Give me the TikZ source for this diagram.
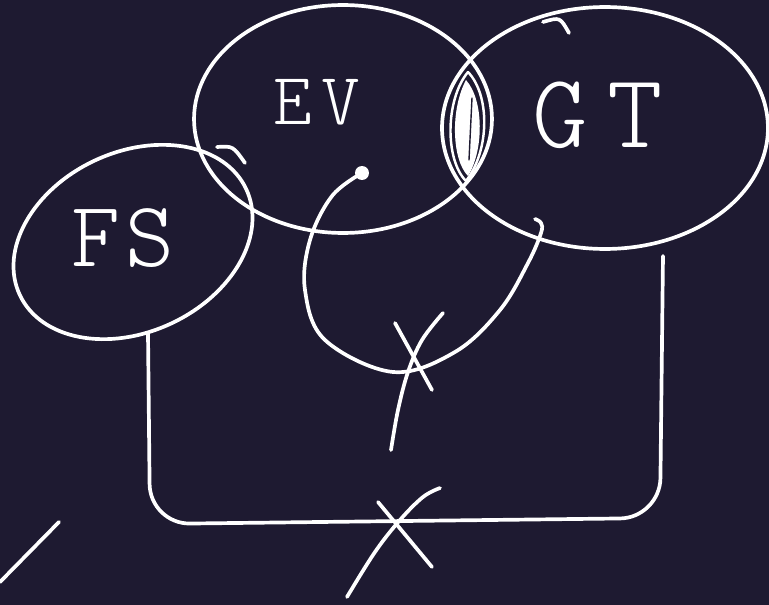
\documentclass[tikz,border=0pt]{standalone}
\usepackage{fontspec}
\newfontfamily\handfont{Latin Modern Mono Light}
\usetikzlibrary{shapes.geometric}
\definecolor{board}{RGB}{30,26,49}
\begin{document}
\begin{tikzpicture}[x=0.02cm,y=-0.02cm,line width=2.1pt,line cap=round,line join=round,white]
    \tikzstyle{region} = [draw, ellipse, inner sep=0pt]
    \tikzstyle{handtext} = [inner sep=0pt]
    \fill[board] (0,0) rectangle (769,605);
    \useasboundingbox (0,0) rectangle (769,605);

    \node[region, minimum width=5.96cm, minimum height=4.56cm] (EV) at (343,119) {};
    \node[region, minimum width=6.52cm, minimum height=4.84cm] (GT) at (605,128) {};
    \node[region, rotate=25, minimum width=5cm, minimum height=3.6cm] (FS) at (133,242) {};

    \node[handtext, font=\handfont\fontsize{42}{42}\selectfont] (EVlabel) at (317,102) {E\kern5pt V};
    \node[handtext, font=\handfont\fontsize{60}{60}\selectfont] (GTlabel) at (598,115) {G\kern11pt T};
    \node[handtext, font=\handfont\fontsize{53}{53}\selectfont] (FSlabel) at (123,238) {F\kern3pt S};

    % overlap of EV and GT, scribbled in
    \draw[line width=1.4pt] (468,72) .. controls (445,100) and (445,160) .. (466,181) .. controls (490,150) and (490,95) .. (468,72);
    \fill (466,80) .. controls (450,110) and (452,160) .. (468,176) .. controls (484,150) and (484,100) .. (466,80);
    \draw[board, line width=0.8pt] (472,98) -- (469,160);

    % loose ends of the sets
    \draw (217,147) .. controls (233,146) .. (245,163);
    \draw (543,22) .. controls (560,17) .. (569,33);

    \node[fill, circle, minimum size=0.28cm, inner sep=0pt] (EVdot) at (362,173) {};
    \coordinate (GThook) at (535,219);
    \draw plot [smooth,tension=.6] coordinates {(EVdot) (332,196) (310,240) (305,290) (325,340) (393,372) (455,352) (500,310) (528,263) (541,233) (541,223) (GThook)};
    \draw (395,323) -- (432,390);
    \draw plot [smooth,tension=.6] coordinates {(443,313) (422,340) (408,372) (398,410) (391,450)};

    \coordinate (FSfoot) at (148,333);
    \coordinate (GTfoot) at (663,256);
    \draw[rounded corners=0.8cm] (FSfoot) -- (150,524) -- (660,518) -- (GTfoot);
    \draw (378,502) -- (432,567);
    \draw plot [smooth,tension=.6] coordinates {(440,488) (423,497) (400,520) (375,552) (347,597)};

    \draw (59,522) -- (0,582);
\end{tikzpicture}
\end{document}
